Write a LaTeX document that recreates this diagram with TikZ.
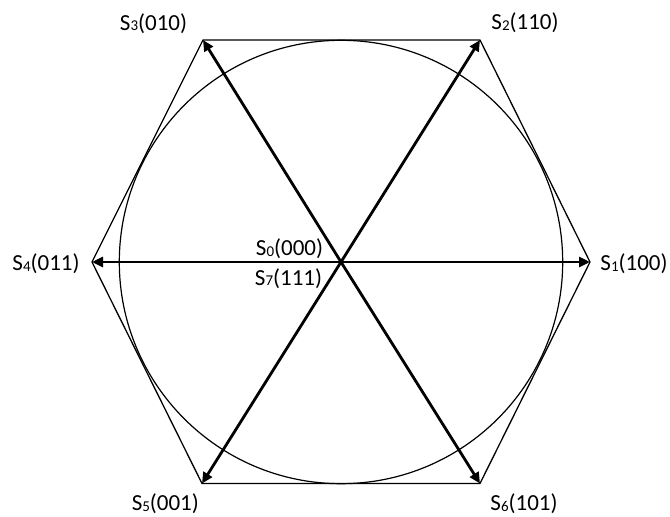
\documentclass[tikz,border=0pt]{standalone}
\usepackage{fontspec}
\setmainfont{Carlito}
\usetikzlibrary{arrows.meta}
\newcommand\svlab[2]{S\raisebox{-0.8pt}{\fontsize{15}{15}\selectfont #1}(#2)}
\tikzset{
  thin line/.style={line width=1.3pt, black},
  vec/.style={line width=2.8pt, black, -{Triangle[length=11pt,width=10pt]}, shorten >=0pt},
  lab/.style={font=\fontsize{23}{23}\selectfont, inner sep=0pt, anchor=base}
}
\begin{document}
\begin{tikzpicture}[x=1pt,y=-1pt]
\useasboundingbox (0,0) rectangle (670,517);
\coordinate (O) at (341,262);
\coordinate (V1) at (590,262);
\coordinate (V2) at (480,40);
\coordinate (V3) at (203,40);
\coordinate (V4) at (92,262);
\coordinate (V5) at (202,483.5);
\coordinate (V6) at (480,483.5);
% hexagon
\draw[thin line] (V1) -- (V2) -- (V3) -- (V4) -- (V5) -- (V6) -- cycle;
% circle
\draw[line width=1.2pt] (O) circle[radius=221.7];
% vectors
\foreach \v in {V1,V2,V3,V4,V5,V6} \draw[vec] (O) -- (\v);
% labels
\node[lab] (L1) at (634,270.7) {\svlab{1}{100}};
\node[lab] (L2) at (525,29.3) {\svlab{2}{110}};
\node[lab] (L3) at (153.5,30) {\svlab{3}{010}};
\node[lab] (L4) at (46,270.7) {\svlab{4}{011}};
\node[lab] (L5) at (165.3,510.7) {\svlab{5}{001}};
\node[lab] (L6) at (524,510.7) {\svlab{6}{101}};
\node[lab] (L0) at (289.5,255.7) {\svlab{0}{000}};
\node[lab] (L7) at (288.5,285) {\svlab{7}{111}};
\end{tikzpicture}
\end{document}
